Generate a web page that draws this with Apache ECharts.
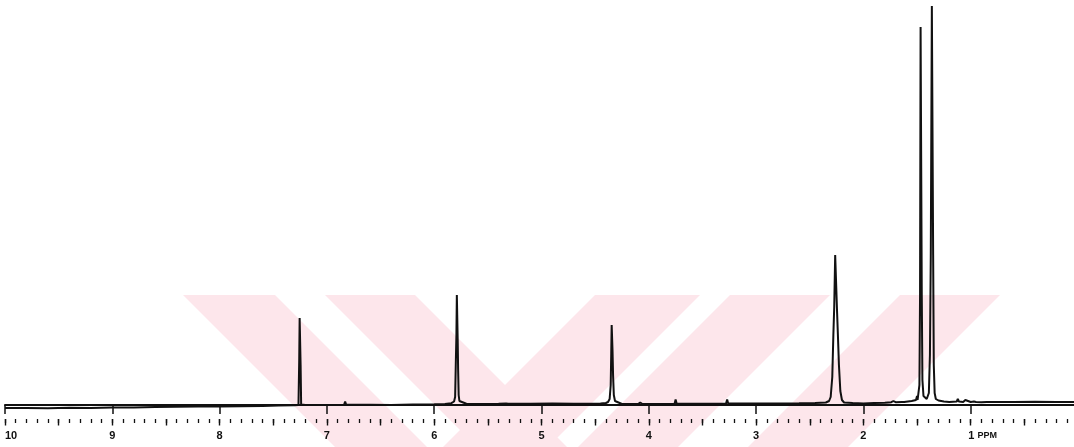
<!DOCTYPE html>
<html>
<head>
<meta charset="utf-8">
<script src="https://cdn.jsdelivr.net/npm/echarts@6/dist/echarts.min.js"></script>
<style>
html,body{margin:0;padding:0;background:#fff;overflow:hidden;}
#chart{width:1074px;height:447px;}
</style>
</head>
<body>
<div id="chart"></div>
<script>
// Axis labels (ppm)
const ppmLabels = [10, 9, 8, 7, 6, 5, 4, 3, 2, 1];
const unitLabel = 'PPM';

// Spectrum: [chemical shift (ppm), intensity]
const downfield = [
  [10.00,-3],[9.80,-3],[9.60,-3.2],[9.40,-2.8],[9.20,-3],[9.00,-2.6],[8.80,-2.4],[8.60,-2],
  [8.40,-1.8],[8.20,-1.6],[8.00,-1.4],[7.80,-1.2],[7.60,-1],[7.45,-0.6],[7.30,-0.3]
];
const peakCDCl3 = [
  [7.265,0],[7.258,45],[7.254,87],[7.249,87],[7.245,40],[7.24,0.5],[7.20,0],[7.10,0],[7.00,0]
];
const peak579 = [
  [6.90,0],[6.84,0.3],[6.83,3.5],[6.82,0.3],[6.60,0.2],[6.40,0],[6.20,0.5],[6.00,0.8],[5.90,1],
  [5.84,1.8],[5.815,3.5],[5.805,8],[5.798,45],[5.793,70],[5.789,110],[5.785,110],[5.781,65],
  [5.777,35],[5.772,10],[5.765,4],[5.75,2],[5.70,1.2],[5.55,1]
];
const midRegion = [
  [5.40,1.2],[5.33,1.5],[5.32,3],[5.31,1.2],[5.10,1.3],[4.90,1.5],[4.70,1.3],[4.55,1.2],[4.45,1.4],[4.40,2]
];
const peak434 = [
  [4.38,3],[4.365,6],[4.355,20],[4.35,52],[4.346,80],[4.342,80],[4.338,54],[4.333,30],[4.326,10],
  [4.315,4],[4.30,2],[4.25,1],[4.10,1],[4.08,2.5],[4.06,1],[3.90,1],[3.76,1.2],[3.75,5.5],[3.74,1.2],
  [3.50,1.3],[3.28,1.4],[3.27,5.5],[3.26,1.4],[3.00,1.5],[2.80,1.6],[2.60,1.8],[2.45,2],[2.35,2.5]
];
const peak226 = [
  [2.32,4],[2.305,8],[2.29,28],[2.28,70],[2.272,98],[2.263,150],[2.253,150],[2.245,92],[2.237,68],
  [2.228,40],[2.215,14],[2.20,5],[2.18,2.5],[2.10,2],[2.00,1.5],[1.90,2],[1.80,2.3],[1.74,2.8],
  [1.72,4],[1.70,2.8],[1.64,3],[1.63,5],[1.62,3],[1.55,4],[1.51,5],[1.50,9],[1.495,5],[1.485,6]
];
const peaksUpfield = [
  [1.478,20],[1.472,110],[1.467,378],[1.461,378],[1.456,110],[1.45,25],[1.44,9],[1.41,6],[1.39,12],
  [1.38,50],[1.372,150],[1.362,399],[1.356,399],[1.35,150],[1.344,40],[1.336,12],[1.325,6],[1.30,4.5],
  [1.25,3.5],[1.20,3],[1.13,3.5],[1.12,6],[1.11,3.5],[1.07,3],[1.05,5],[1.04,3],[1.00,3],[0.97,3.5],
  [0.96,4.5],[0.95,3],[0.90,2.8],[0.85,3],[0.80,3],[0.60,3],[0.40,3.2],[0.20,3],[0.00,3]
];

const spectrum = [].concat(downfield, peakCDCl3, peak579, midRegion, peak434, peak226, peaksUpfield);

const chart = echarts.init(document.getElementById('chart'), null, {renderer: 'canvas'});

const ink = '#111';
const wm = '#fde6eb';

function tickAxis(interval, len, width) {
  return {
    type: 'value', inverse: true, min: 0, max: 10, interval: interval, position: 'bottom', offset: 0,
    axisLine: {show: false},
    axisTick: {show: true, length: len, lineStyle: {color: ink, width: width}},
    axisLabel: {show: false},
    splitLine: {show: false}
  };
}

chart.setOption({
  animation: false,
  backgroundColor: '#fff',
  graphic: [
    {type:'polygon', z:0, silent:true, shape:{points:[[183,295],[275,295],[427,447],[335,447]]}, style:{fill:wm}},
    {type:'polygon', z:0, silent:true, shape:{points:[[325,295],[415,295],[567,447],[477,447]]}, style:{fill:wm}},
    {type:'polygon', z:0, silent:true, shape:{points:[[595,295],[700,295],[548,447],[443,447]]}, style:{fill:wm}},
    {type:'polygon', z:0, silent:true, shape:{points:[[730,295],[830,295],[678,447],[578,447]]}, style:{fill:wm}},
    {type:'polygon', z:0, silent:true, shape:{points:[[900,295],[1000,295],[848,447],[748,447]]}, style:{fill:wm}}
  ],
  grid: {left: 5, width: 1073, top: 0, bottom: 28, containLabel: false, outerBoundsMode: 'none'},
  xAxis: [
    {
      type: 'value', inverse: true, min: 0, max: 10, interval: 1, position: 'bottom',
      axisLine: {show: true, lineStyle: {color: ink, width: 2}},
      axisTick: {show: true, inside: false, length: 9, lineStyle: {color: ink, width: 1.5}},
      splitLine: {show: false},
      axisLabel: {
        show: true, margin: 11, color: ink, fontSize: 11, fontWeight: 'bold',
        fontFamily: 'Liberation Sans',
        alignMaxLabel: 'left',
        formatter: function (v) {
          if (ppmLabels.indexOf(v) < 0) return '';
          if (v === 1) return '{s|}1 {p|' + unitLabel + '}';
          return String(v);
        },
        rich: {
          s: {width: 24},
          p: {fontSize: 9, fontWeight: 'bold', color: ink, fontFamily: 'Liberation Sans'}
        }
      }
    },
    tickAxis(0.5, 6.5, 1.4),
    tickAxis(0.1, 4, 1.3)
  ],
  yAxis: {type: 'value', min: -14, max: 405, show: false, splitLine: {show: false}},
  series: [{
    type: 'line', xAxisIndex: 0, z: 5,
    data: spectrum, showSymbol: false, smooth: false, clip: false,
    lineStyle: {color: ink, width: 2}
  }]
});
</script>
</body>
</html>
